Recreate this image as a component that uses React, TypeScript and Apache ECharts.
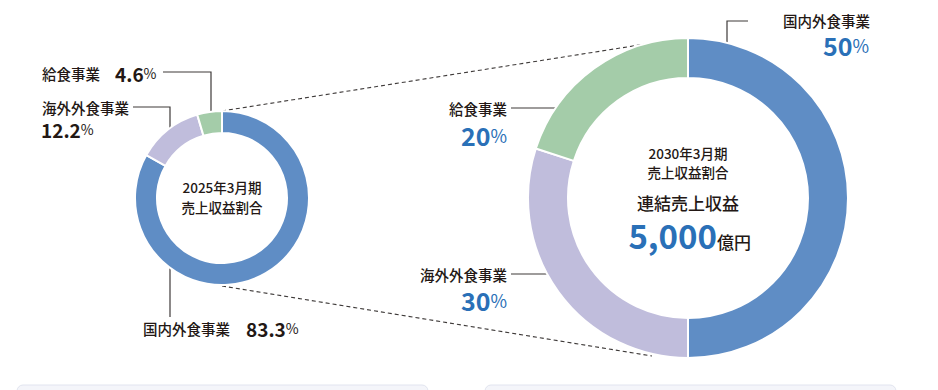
import React, { useEffect, useRef } from "react";
import * as echarts from "echarts";

const segments = ["国内外食事業", "海外外食事業", "給食事業"];
const share2025 = [83.3, 12.2, 4.6];
const share2030 = [50, 30, 20];
const colors = ["#5f8dc5", "#c0bddc", "#a4cca9"];
const period2025 = ["2025年3月期", "売上収益割合"];
const period2030 = ["2030年3月期", "売上収益割合"];
const totalTitle = "連結売上収益";
const totalValue = "5,000";
const totalUnit = "億円";

const FONT = "'Noto Sans CJK JP', 'Noto Sans', sans-serif";
const DARK = "#231815";
const BLUE = "#2a70b7";
const LINE = "#3e3a39";

export default function App() {
  const ref = useRef<HTMLDivElement>(null);
  useEffect(() => {
    if (!ref.current) return;
    const chart = echarts.init(ref.current, null, { renderer: "svg" });

    const pieData = (vals: number[]) =>
      vals.map((v, i) => ({ name: segments[i], value: v, itemStyle: { color: colors[i] } }));

    const txt = (x: number, y: number, text: string, size: number, align: string, extra: any = {}) => ({
      type: "text",
      x,
      y,
      style: {
        text,
        fontSize: size,
        fontFamily: FONT,
        fill: DARK,
        textAlign: align,
        textVerticalAlign: "middle",
        ...extra,
      },
    });

    const pctRich = (v: number, big: number, color: string, bold: number) => ({
      text: `{n|${v}}{p|%}`,
      rich: {
        n: { fontSize: big, fontWeight: bold, fontFamily: FONT, fill: color, color },
        p: { fontSize: Math.round(big * 0.72), fontFamily: FONT, fill: color, color },
      },
    });

    const rtext = (x: number, y: number, v: number, size: number, align: string, color: string, bold: number) => ({
      type: "text",
      x,
      y,
      style: {
        ...pctRich(v, size, color, bold),
        textAlign: align,
        textVerticalAlign: "middle",
      },
    });

    const poly = (pts: number[][]) => ({
      type: "polyline",
      shape: { points: pts },
      style: { stroke: LINE, lineWidth: 1.2, fill: null },
    });

    const dashed = (x1: number, y1: number, x2: number, y2: number) => ({
      type: "line",
      shape: { x1, y1, x2, y2 },
      style: { stroke: "#3e3a39", lineWidth: 1.1, lineDash: [4, 3] },
    });

    chart.setOption({
      animation: false,
      series: [
        {
          type: "pie",
          center: [222, 198],
          radius: [65, 87],
          startAngle: 90,
          clockwise: true,
          silent: true,
          label: { show: false },
          labelLine: { show: false },
          itemStyle: { borderColor: "#fff", borderWidth: 2 },
          data: pieData(share2025),
        },
        {
          type: "pie",
          center: [688, 198],
          radius: [120, 160],
          startAngle: 90,
          clockwise: true,
          silent: true,
          label: { show: false },
          labelLine: { show: false },
          itemStyle: { borderColor: "#fff", borderWidth: 2 },
          data: pieData(share2030),
        },
      ],
      graphic: [
        dashed(222, 111, 652, 43),
        dashed(222, 286, 652, 356),
        // bottom boxes
        {
          type: "rect",
          shape: { x: 17, y: 385, width: 411, height: 20, r: 6 },
          style: { fill: "#f4f5fa", stroke: "#e1e4ef", lineWidth: 1 },
        },
        {
          type: "rect",
          shape: { x: 485, y: 385, width: 411, height: 20, r: 6 },
          style: { fill: "#f4f5fa", stroke: "#e1e4ef", lineWidth: 1 },
        },
        // left labels
        txt(42, 73, segments[2], 14.5, "left", { fontWeight: 500 }),
        rtext(115, 73, share2025[2], 19, "left", DARK, 700),
        poly([[163, 72], [211, 72], [211, 115]]),
        txt(42, 107, segments[1], 14.5, "left", { fontWeight: 500 }),
        rtext(41, 129, share2025[1], 19, "left", DARK, 700),
        poly([[133, 107], [170, 107], [170, 132]]),
        poly([[170, 266], [170, 317]]),
        txt(143, 328, segments[0], 14.5, "left", { fontWeight: 500 }),
        rtext(246, 328, share2025[0], 19, "left", DARK, 700),
        // left center
        txt(222, 187, period2025[0], 13.5, "center", { fontWeight: 500 }),
        txt(222, 207, period2025[1], 13.5, "center", { fontWeight: 500 }),
        // right labels
        poly([[748, 21], [727, 21], [727, 47]]),
        txt(870, 20, segments[0], 14.5, "right", { fontWeight: 500 }),
        rtext(869, 45, share2030[0], 25, "right", BLUE, 700),
        txt(507, 108, segments[2], 14.5, "right", { fontWeight: 500 }),
        rtext(507, 135, share2030[2], 25, "right", BLUE, 700),
        poly([[511, 108], [564, 108]]),
        txt(507, 274, segments[1], 14.5, "right", { fontWeight: 500 }),
        rtext(507, 300, share2030[1], 25, "right", BLUE, 700),
        poly([[511, 274], [564, 274]]),
        // right center
        txt(688, 153, period2030[0], 13.5, "center", { fontWeight: 500 }),
        txt(688, 172, period2030[1], 13.5, "center", { fontWeight: 500 }),
        txt(688, 202, totalTitle, 17, "center", { fontWeight: 500 }),
        txt(717, 235, totalValue, 33, "right", { fontWeight: 700, fill: BLUE }),
        txt(717, 241, totalUnit, 17, "left", { fontWeight: 500 }),
      ],
    });
    return () => chart.dispose();
  }, []);
  return (
    <div
      ref={ref}
      style={{ position: "fixed", left: 0, top: 0, width: 938, height: 390, background: "#fff" }}
    />
  );
}
